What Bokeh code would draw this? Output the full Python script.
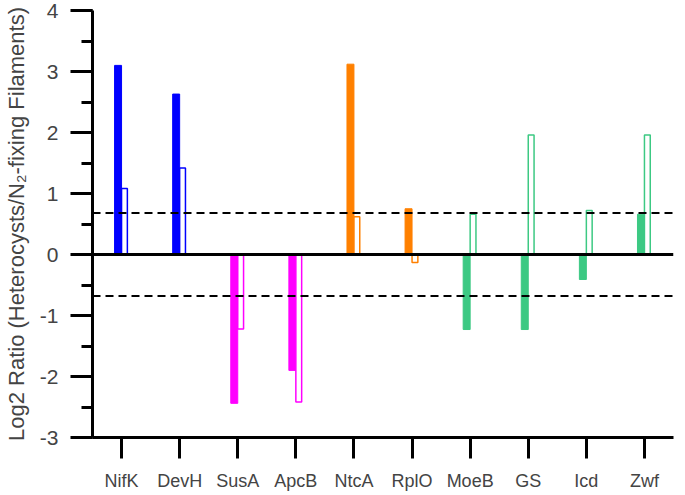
from bokeh.plotting import figure
from bokeh.models import ColumnDataSource, Range1d, Span, SingleIntervalTicker, FactorRange
from bokeh.transform import dodge
from bokeh.embed import file_html
from bokeh.resources import INLINE

# ---- data ----
genes = ["NifK", "DevH", "SusA", "ApcB", "NtcA", "RplO", "MoeB", "GS", "Icd", "Zwf"]
filled_vals = [3.10, 2.63, -2.44, -1.90, 3.12, 0.75, -1.23, -1.23, -0.41, 0.66]
open_vals = [1.08, 1.42, -1.22, -2.42, 0.62, -0.13, 0.66, 1.96, 0.72, 1.96]
threshold = 0.68
y_ticks = [-3, -2, -1, 0, 1, 2, 3, 4]

# ---- style ----
BLUE, MAGENTA, ORANGE, GREEN = "#0000FF", "#FF00FF", "#FF8000", "#3CC983"
gene_colors = [BLUE, BLUE, MAGENTA, MAGENTA, ORANGE, ORANGE, GREEN, GREEN, GREEN, GREEN]
FONT = "Liberation Sans"

src = ColumnDataSource(dict(gene=genes, filled=filled_vals, open=open_vals, color=gene_colors))

p = figure(
    x_range=FactorRange(*genes, range_padding=0),
    y_range=Range1d(y_ticks[0], y_ticks[-1]),
    width=677, height=493,
    output_backend="svg", toolbar_location=None,
    min_border_left=89, min_border_right=4, min_border_top=10, min_border_bottom=53,
)
p.outline_line_color = None
p.xgrid.visible = False
p.ygrid.visible = False

# threshold lines
for t in (threshold, -threshold):
    p.add_layout(Span(location=t, dimension="width", line_color="black",
                      line_width=2, line_dash="8 5"))

# bars
p.vbar(x=dodge("gene", -0.06, range=p.x_range), top="filled", bottom=0, width=0.12,
       fill_color="color", line_color="color", line_width=1, source=src)
p.vbar(x=dodge("gene", 0.05, range=p.x_range), top="open", bottom=0, width=0.10,
       fill_color="white", line_color="color", line_width=1.5, source=src)

# zero line
p.add_layout(Span(location=0, dimension="width", line_color="black", line_width=3))

# y axis
ya = p.yaxis[0]
ya.ticker = SingleIntervalTicker(interval=1, num_minor_ticks=2)
ya.major_label_overrides = {t: str(t) for t in y_ticks}
ya.axis_label = "Log2 Ratio (Heterocysts/N\u2082-fixing Filaments)"
ya.axis_label_text_font = FONT
ya.axis_label_text_font_size = "22px"
ya.axis_label_text_font_style = "normal"
ya.axis_label_standoff = 8
ya.major_label_text_font = FONT
ya.major_label_text_font_size = "21px"
ya.major_label_standoff = 12
ya.axis_line_width = 3
ya.major_tick_line_width = 3
ya.minor_tick_line_width = 3
ya.major_tick_out = 22
ya.major_tick_in = 0
ya.minor_tick_out = 11
ya.minor_tick_in = 0

# x axis
xa = p.xaxis[0]
xa.major_label_text_font = FONT
xa.major_label_text_font_size = "18px"
xa.major_label_text_baseline = "middle"
xa.major_label_standoff = 12
xa.axis_line_width = 3
xa.major_tick_line_width = 3
xa.major_tick_out = 21
xa.major_tick_in = 0

open("out.html", "w").write(file_html(p, INLINE))
